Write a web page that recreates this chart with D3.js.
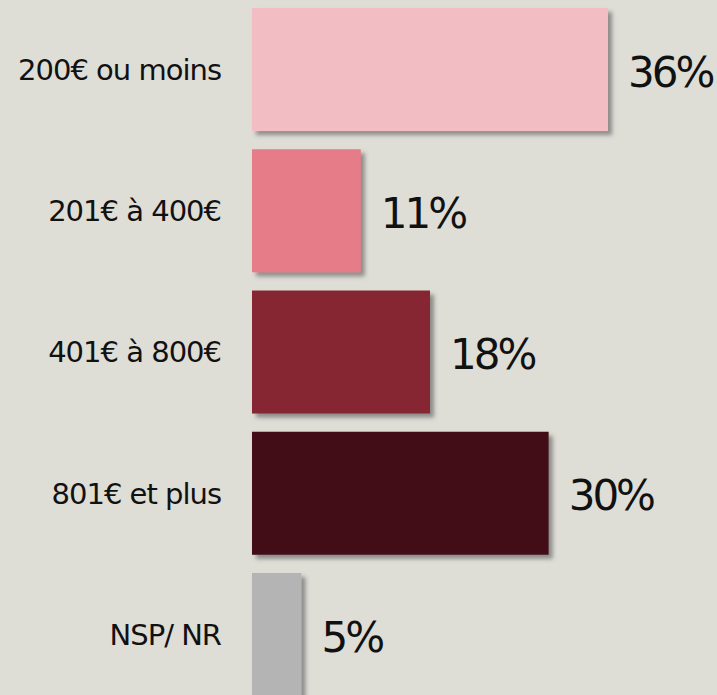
<!DOCTYPE html>
<html>
<head>
<meta charset="utf-8">
<script src="https://cdn.jsdelivr.net/npm/d3@7"></script>
<style>
  body { margin: 0; background: #deddd6; overflow: hidden; }
</style>
</head>
<body>
<div id="chart"></div>
<script>
const categories = ["200€ ou moins", "201€ à 400€", "401€ à 800€", "801€ et plus", "NSP/ NR"];
const values = [36, 11, 18, 30, 5];
const colors = ["#f2bdc3", "#e57b88", "#852733", "#420c13", "#b4b4b4"];

const width = 717, height = 695;

const svg = d3.select("#chart")
  .append("svg")
  .attr("width", width)
  .attr("height", height)
  .style("font-family", "'DejaVu Sans', Verdana, sans-serif");

svg.append("rect")
  .attr("width", width)
  .attr("height", height)
  .attr("fill", "#deddd6");

// soft drop shadow under each bar
const filter = svg.append("defs").append("filter")
  .attr("id", "shadow")
  .attr("x", "-10%").attr("y", "-10%")
  .attr("width", "130%").attr("height", "130%");
filter.append("feDropShadow")
  .attr("dx", 4).attr("dy", 4)
  .attr("stdDeviation", 2)
  .attr("flood-color", "#555")
  .attr("flood-opacity", 0.6);

const left = 252;

const x = d3.scaleLinear()
  .domain([0, 36])
  .range([0, 356]);

const y = d3.scaleBand()
  .domain(categories)
  .range([-1.1, 705.15])
  .paddingInner(0.129)
  .paddingOuter(0.0645);

const g = svg.append("g")
  .attr("transform", `translate(${left},0)`);

g.selectAll("rect.bar")
  .data(values)
  .join("rect")
  .attr("class", "bar")
  .attr("x", 0)
  .attr("y", (d, i) => y(categories[i]))
  .attr("width", d => x(d))
  .attr("height", y.bandwidth())
  .attr("fill", (d, i) => colors[i])
  .attr("filter", "url(#shadow)");

// category labels
g.selectAll("text.cat")
  .data(categories)
  .join("text")
  .attr("class", "cat")
  .attr("x", -31)
  .attr("y", d => y(d) + y.bandwidth() / 2)
  .attr("dy", "0.36em")
  .attr("text-anchor", "end")
  .attr("font-size", 29)
  .attr("letter-spacing", -1)
  .attr("fill", "#111")
  .text(d => d);

// value labels
g.selectAll("text.val")
  .data(values)
  .join("text")
  .attr("class", "val")
  .attr("x", d => x(d) + 20)
  .attr("y", (d, i) => y(categories[i]) + y.bandwidth() / 2 + 2)
  .attr("dy", "0.36em")
  .attr("font-size", 42)
  .attr("letter-spacing", -3)
  .attr("fill", "#111")
  .text(d => d + "%");
</script>
</body>
</html>
